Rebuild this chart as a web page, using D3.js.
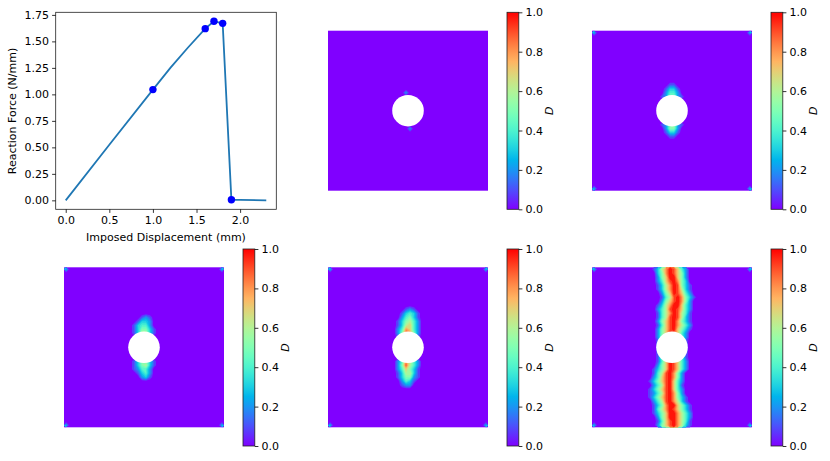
<!DOCTYPE html>
<html>
<head>
<meta charset="utf-8">
<script src="https://cdn.jsdelivr.net/npm/d3@7"></script>
<style>
  html, body { margin: 0; padding: 0; background: #fff; }
  svg { display: block; }
  text { font-family: "DejaVu Sans", sans-serif; font-size: 11px; fill: #000; }
</style>
</head>
<body>
<svg id="fig" width="830" height="461"></svg>
<script>
// reaction curve
const displacement = [0, 0.5, 1.0, 1.2, 1.4, 1.6, 1.7, 1.8, 1.9, 2.0, 2.3];
const reaction = [0, 0.525, 1.045, 1.25, 1.44, 1.62, 1.69, 1.67, 0.005, 0.004, 0];
const markerX = [1.0, 1.6, 1.7, 1.8, 1.9];
const markerY = [1.045, 1.62, 1.69, 1.67, 0.005];
const curveTicksX = [0, 0.5, 1.0, 1.5, 2.0];
const curveTicksY = [0, 0.25, 0.5, 0.75, 1.0, 1.25, 1.5, 1.75];
const colorbarTicks = [0, 0.2, 0.4, 0.6, 0.8, 1.0];

// damage fields, one string per mesh row, a digit is D*10 (a = 1.0).
// only the middle columns of the plate ever get damaged
const _ = "0000000000000000";
const damage0 = [
  _,_,_,_,_,_,_,_,_,_,_,_,_,_,_,
  "0000000200000000",
  _,_,_,_,_,_,_,_,
  "0000000020000000",
  _,_,_,_,_,_,_,_,_,_,_,_,_,_,_
];
const damage1 = [
  _,_,_,_,_,_,_,_,_,_,_,_,_,
  "0000000110000000",
  "0000001331000000",
  "0000002442000000",
  "0000012552100000",
  "0000001441000000",
  _,_,_,_,_,
  "0000012562100000",
  "0000002552000000",
  "0000001331000000",
  "0000000110000000",
  _,_,_,_,_,_,_,_,_,_,_,_,_
];
const damage2 = [
  _,_,_,_,_,_,_,_,_,_,_,_,
  "0000000121000000",
  "0000001332000000",
  "0000013442000000",
  "0000013553100000",
  "0000013663100000",
  "0000001441000000",
  _,_,_,_,_,
  "0000013553100000",
  "0000013563100000",
  "0000012442000000",
  "0000001342000000",
  "0000000231000000",
  _,_,_,_,_,_,_,_,_,_,_,_
];
const damage3 = [
  _,_,_,_,_,_,_,_,_,_,
  "0000000121000000",
  "0000001343100000",
  "0000002453100000",
  "0000013564200000",
  "0000013674200000",
  "0000024874200000",
  "0000025985200000",
  "0000012763100000",
  "0000000770000000",
  "0000000770000000",
  "0000000770000000",
  "0000000770000000",
  "0000000770000000",
  "0000024864200000",
  "0000025964200000",
  "0000024753100000",
  "0000013663100000",
  "0000013552100000",
  "0000002431000000",
  "0000001220000000",
  _,_,_,_,_,_,_,_,_,_
];
const damage4 = [
  "0001368a97420000",
  "0000358a97520000",
  "0000257aa7520000",
  "00002479a8530000",
  "00001368a9531000",
  "00001368a9631000",
  "00000257a9742000",
  "000001469a853100",
  "000002579a852000",
  "00001368aa742000",
  "00002469a9742000",
  "00001468a9641000",
  "00001469a9631000",
  "00002579a8531000",
  "00001479a8642000",
  "00002579a7531000",
  "0000257a97420000",
  "0000258a97420000",
  "0000157a96410000",
  "0000157a96410000",
  "0000157a96410000",
  "0000157a96410000",
  "0000157a96410000",
  "0000147a97420000",
  "0000257a97420000",
  "0001357a97420000",
  "0001469a85200000",
  "0002479a85200000",
  "0013579a74200000",
  "0002469a74100000",
  "0013579a74200000",
  "0012469a85200000",
  "0013579a85310000",
  "0002469a86310000",
  "0001358aa7531000",
  "0001468a97531000",
  "0001357aa8642000",
  "0000257aa8642000",
  "00001479a8641000",
  "00002579a8631000"
];
const cornerDamage = [0, 0.25, 0.25, 0.25, 0.25];

const plateSize = 160;
const meshSize = 40;
const firstCol = 12;

// matplotlib's rainbow map
function rainbow(t) {
  const r = Math.min(1, Math.abs(2 * t - 0.5));
  const g = Math.sin(Math.PI * t);
  const b = Math.cos(Math.PI * t / 2);
  return d3.rgb(r * 255, g * 255, b * 255).formatHex();
}

const svg = d3.select("#fig");

// gradient for the colorbars
const stops = d3.range(0, 1.0001, 0.05);
svg.append("defs").append("linearGradient")
  .attr("id", "rainbow")
  .attr("x1", 0).attr("y1", 1).attr("x2", 0).attr("y2", 0)
  .selectAll("stop").data(stops).join("stop")
  .attr("offset", d => d)
  .attr("stop-color", d => rainbow(d));

function styleAxis(g) {
  g.select(".domain").remove();
  g.selectAll(".tick line").attr("stroke", "#000").attr("stroke-width", 0.8);
  g.selectAll(".tick text").attr("fill", "#000");
}

function drawCurve() {
  const left = 55.7, right = 276.3, top = 12.3, bottom = 209.3;
  const x = d3.scaleLinear().domain([-0.115, 2.415]).range([left, right]);
  const y = d3.scaleLinear().domain([-0.0845, 1.7745]).range([bottom, top]);

  const g = svg.append("g");
  g.append("path")
    .datum(d3.zip(displacement, reaction))
    .attr("fill", "none")
    .attr("stroke", "#1f77b4")
    .attr("stroke-width", 1.8)
    .attr("d", d3.line().x(d => x(d[0])).y(d => y(d[1])));

  g.selectAll("circle")
    .data(d3.zip(markerX, markerY))
    .join("circle")
    .attr("cx", d => x(d[0]))
    .attr("cy", d => y(d[1]))
    .attr("r", 3.7)
    .attr("fill", "#0000ff");

  g.append("rect")
    .attr("x", left).attr("y", top)
    .attr("width", right - left).attr("height", bottom - top)
    .attr("fill", "none").attr("stroke", "#222").attr("stroke-width", 0.8);

  g.append("g")
    .attr("transform", `translate(0,${bottom})`)
    .call(d3.axisBottom(x).tickValues(curveTicksX).tickFormat(d3.format(".1f")).tickSize(3.6).tickPadding(3))
    .call(styleAxis);

  g.append("g")
    .attr("transform", `translate(${left},0)`)
    .call(d3.axisLeft(y).tickValues(curveTicksY).tickFormat(d3.format(".2f")).tickSize(3.6).tickPadding(3))
    .call(styleAxis);

  g.selectAll(".tick text").style("font-size", "11px").style("font-family", '"DejaVu Sans"');

  g.append("text")
    .attr("x", (left + right) / 2).attr("y", 241)
    .attr("text-anchor", "middle")
    .text("Imposed Displacement (mm)");

  g.append("text")
    .attr("transform", "translate(16,111) rotate(-90)")
    .attr("text-anchor", "middle")
    .text("Reaction Force (N/mm)");
}

function drawPlate(rows, corner, px, py, barX, barTop) {
  // spread the rows over the whole mesh
  const values = new Array(meshSize * meshSize).fill(0);
  rows.forEach((row, i) => {
    row.split("").forEach((c, j) => {
      values[i * meshSize + firstCol + j] = parseInt(c, 16) / 10;
    });
  });
  const last = meshSize - 1;
  values[0] = corner;
  values[last] = corner;
  values[last * meshSize] = corner;
  values[last * meshSize + last] = corner;

  const scale = d3.scaleLinear().domain([0, meshSize]).range([0, plateSize]);
  const path = d3.geoPath(d3.geoTransform({
    point(a, b) { this.stream.point(scale(a), scale(b)); }
  }));
  const levels = d3.range(0.05, 1, 0.05);
  const contours = d3.contours().size([meshSize, meshSize]).thresholds(levels)(values);

  const g = svg.append("g").attr("transform", `translate(${px},${py})`);
  g.append("rect")
    .attr("width", plateSize).attr("height", plateSize)
    .attr("fill", rainbow(0));
  g.selectAll("path")
    .data(contours)
    .join("path")
    .attr("d", path)
    .attr("fill", d => rainbow(d.value + 0.025));

  g.append("circle")
    .attr("cx", plateSize / 2).attr("cy", plateSize / 2)
    .attr("r", 15.8)
    .attr("fill", "#fff");

  // colorbar
  const barW = 11.8, barH = 197;
  const c = d3.scaleLinear().domain([0, 1]).range([barTop + barH, barTop]);
  const bar = svg.append("g");
  bar.append("rect")
    .attr("x", barX).attr("y", barTop)
    .attr("width", barW).attr("height", barH)
    .attr("fill", "url(#rainbow)")
    .attr("stroke", "#222").attr("stroke-width", 0.8);
  bar.append("g")
    .attr("transform", `translate(${barX + barW},0)`)
    .call(d3.axisRight(c).tickValues(colorbarTicks).tickFormat(d3.format(".1f")).tickSize(3.6).tickPadding(3))
    .call(styleAxis)
    .selectAll(".tick text").style("font-size", "11px").style("font-family", '"DejaVu Sans"');
  bar.append("text")
    .attr("transform", `translate(${barX + 46},${barTop + barH / 2}) rotate(-90)`)
    .attr("text-anchor", "middle")
    .style("font-style", "italic")
    .text("D");
}

drawCurve();
drawPlate(damage0, cornerDamage[0], 328, 30.7, 507, 12.3);
drawPlate(damage1, cornerDamage[1], 592, 30.7, 771, 12.3);
drawPlate(damage2, cornerDamage[2], 64, 267.3, 243, 249);
drawPlate(damage3, cornerDamage[3], 328, 267.3, 507, 249);
drawPlate(damage4, cornerDamage[4], 592, 267.3, 771, 249);
</script>
</body>
</html>
